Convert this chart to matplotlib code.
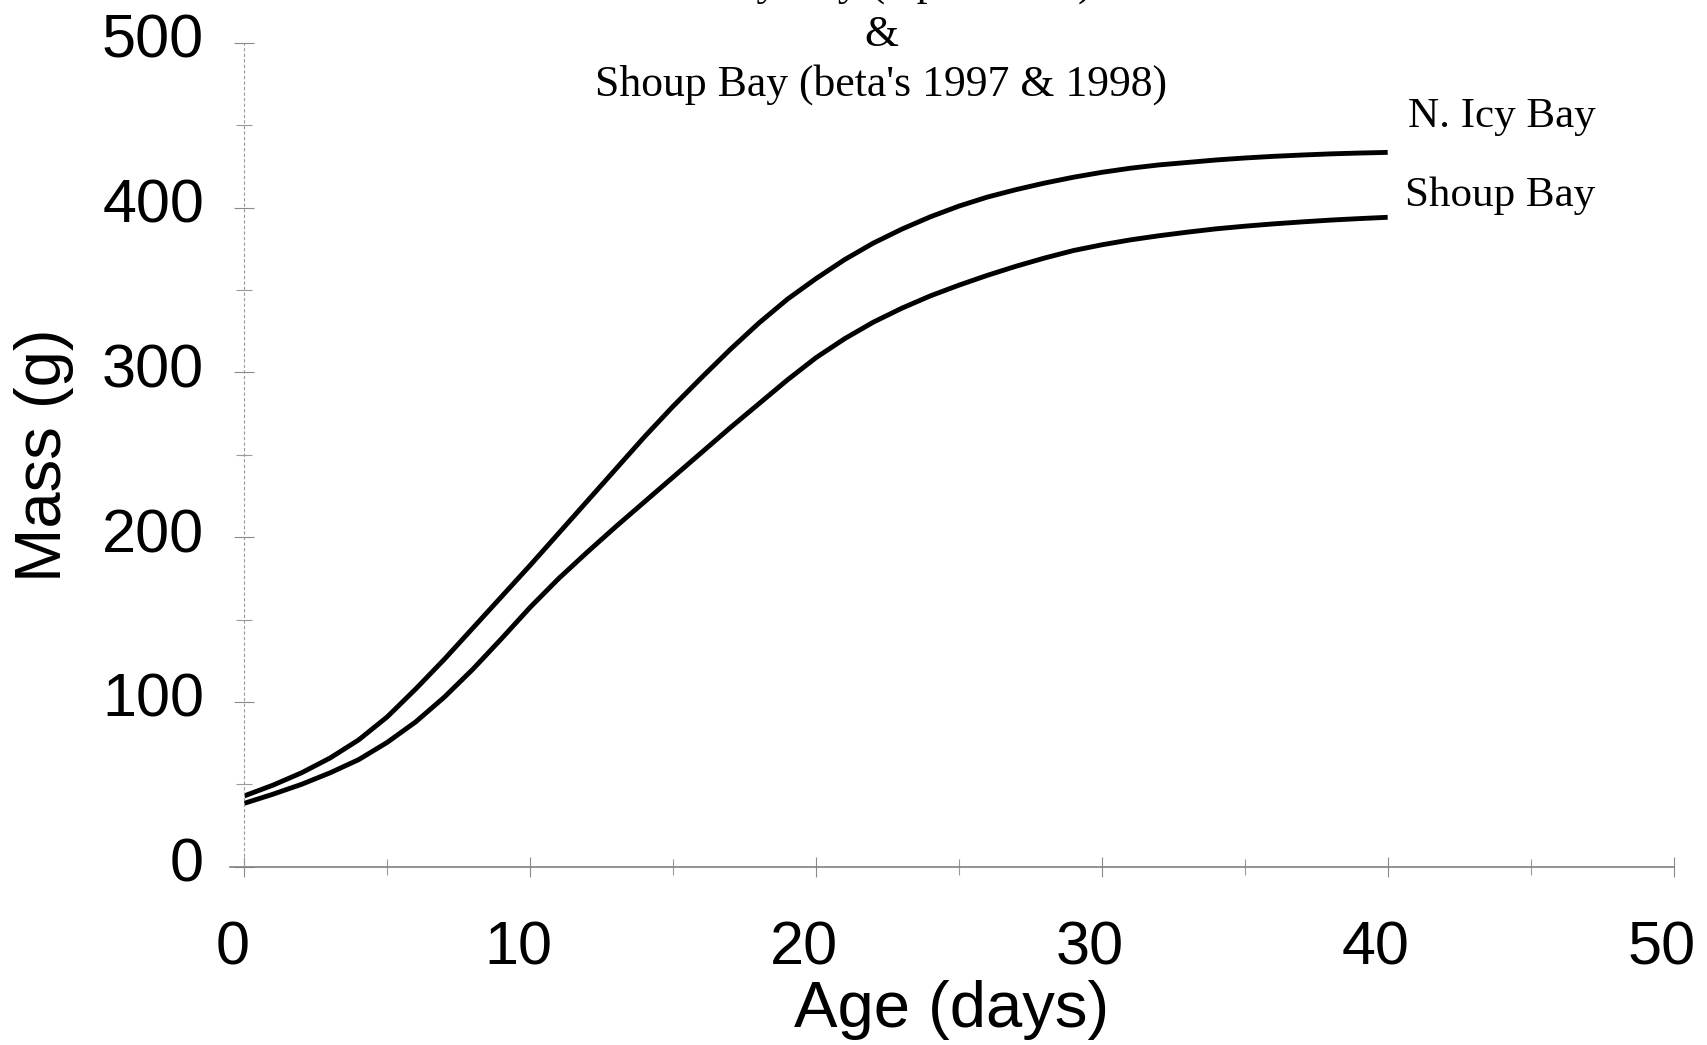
import matplotlib
matplotlib.use("Agg")
import matplotlib.pyplot as plt
from matplotlib.transforms import ScaledTranslation

# ---- data ----
age_days = list(range(0, 41))
n_icy_bay = [43, 49.5, 57, 66, 77, 91, 108, 126, 145, 164,
             183, 202.5, 222, 241.5, 261, 279.5, 297, 314, 330, 344.5,
             357, 368.5, 378.5, 387, 394.5, 401, 406.5, 411, 415, 418.5,
             421.5, 424, 426, 427.5, 429, 430.2, 431.2, 432, 432.7, 433.2, 433.6]
shoup_bay = [38.5, 44, 50, 57, 65, 75.5, 88, 103, 120, 138.5,
             157.5, 175, 191, 206.5, 221.5, 236.5, 251.5, 266.5, 281, 295.5,
             309, 320.5, 330.5, 339, 346.5, 353, 359, 364.5, 369.5, 374,
             377.5, 380.5, 383, 385.2, 387.2, 388.8, 390.2, 391.4, 392.5, 393.4, 394.2]

series_labels = ["N. Icy Bay", "Shoup Bay"]
title_lines = ["N. Icy Bay (alpha 1997)", "&", "Shoup Bay (beta's 1997 & 1998)"]
x_major = [0, 10, 20, 30, 40, 50]
x_minor = [5, 15, 25, 35, 45]
y_major = [0, 100, 200, 300, 400, 500]
y_minor = [50, 150, 250, 350, 450]

W, H = 1707, 1045
fig = plt.figure(figsize=(W / 100, H / 100), dpi=100)
fig.patch.set_facecolor("white")

x0, x1 = 244.4, 1673.5
y0, y1 = 866.7, 43.0
ax = fig.add_axes([x0 / W, 1 - y0 / H, (x1 - x0) / W, (y0 - y1) / H])
ax.set_xlim(0, 50)
ax.set_ylim(0, 500)

ax.plot(age_days, n_icy_bay, color="black", lw=3.5, solid_capstyle="butt", solid_joinstyle="round")
ax.plot(age_days, shoup_bay, color="black", lw=3.5, solid_capstyle="butt", solid_joinstyle="round")

# axes styling (faint scanned look)
for s in ["top", "right", "bottom"]:
    ax.spines[s].set_visible(False)
ax.spines["left"].set_color("#9a9a9a")
ax.spines["left"].set_linewidth(0.8)
ax.spines["left"].set_linestyle((0, (2, 3)))
ax.plot([-0.5, 50], [0, 0], color="#808080", lw=1.2, clip_on=False)

ax.set_xticks(x_major)
ax.set_xticks(x_minor, minor=True)
ax.set_yticks(y_major)
ax.set_yticks(y_minor, minor=True)

sans = "Liberation Sans"
serif = "Liberation Serif"
ax.tick_params(axis="both", which="major", direction="inout", length=14, width=0.8,
               color="#8a8a8a", labelsize=44)
ax.tick_params(axis="both", which="minor", direction="inout", length=12, width=0.8,
               color="#9a9a9a")
ax.tick_params(axis="x", which="major", pad=32)
ax.tick_params(axis="y", which="major", pad=22)
for lab in ax.get_xticklabels() + ax.get_yticklabels():
    lab.set_fontfamily(sans)
for lab in ax.get_xticklabels():
    lab.set_transform(lab.get_transform() + ScaledTranslation(-12 / 100, 0, fig.dpi_scale_trans))
for lab in ax.get_yticklabels():
    lab.set_transform(lab.get_transform() + ScaledTranslation(0, 7 / 100, fig.dpi_scale_trans))

# axis titles
fig.text(44 / W, 1 - 455 / H, "Mass (g)", rotation=90, ha="center", va="center",
         fontsize=47, family=sans)
fig.text(952 / W, 1 - 1010 / H, "Age (days)", ha="center", va="center",
         fontsize=47, family=sans)

# title block (top line cut by the page edge, as in the reference)
for txt, yc in zip(title_lines, [-16, 35, 85]):
    fig.text(881 / W, 1 - yc / H, txt, ha="center", va="center", fontsize=31.5, family=serif)

# curve labels
ax.text(40.7, 455.5, series_labels[0], ha="left", va="center", fontsize=31, family=serif,
        clip_on=False)
ax.text(40.6, 407.2, series_labels[1], ha="left", va="center", fontsize=31, family=serif,
        clip_on=False)

fig.savefig("out.png", dpi=100, facecolor="white")
